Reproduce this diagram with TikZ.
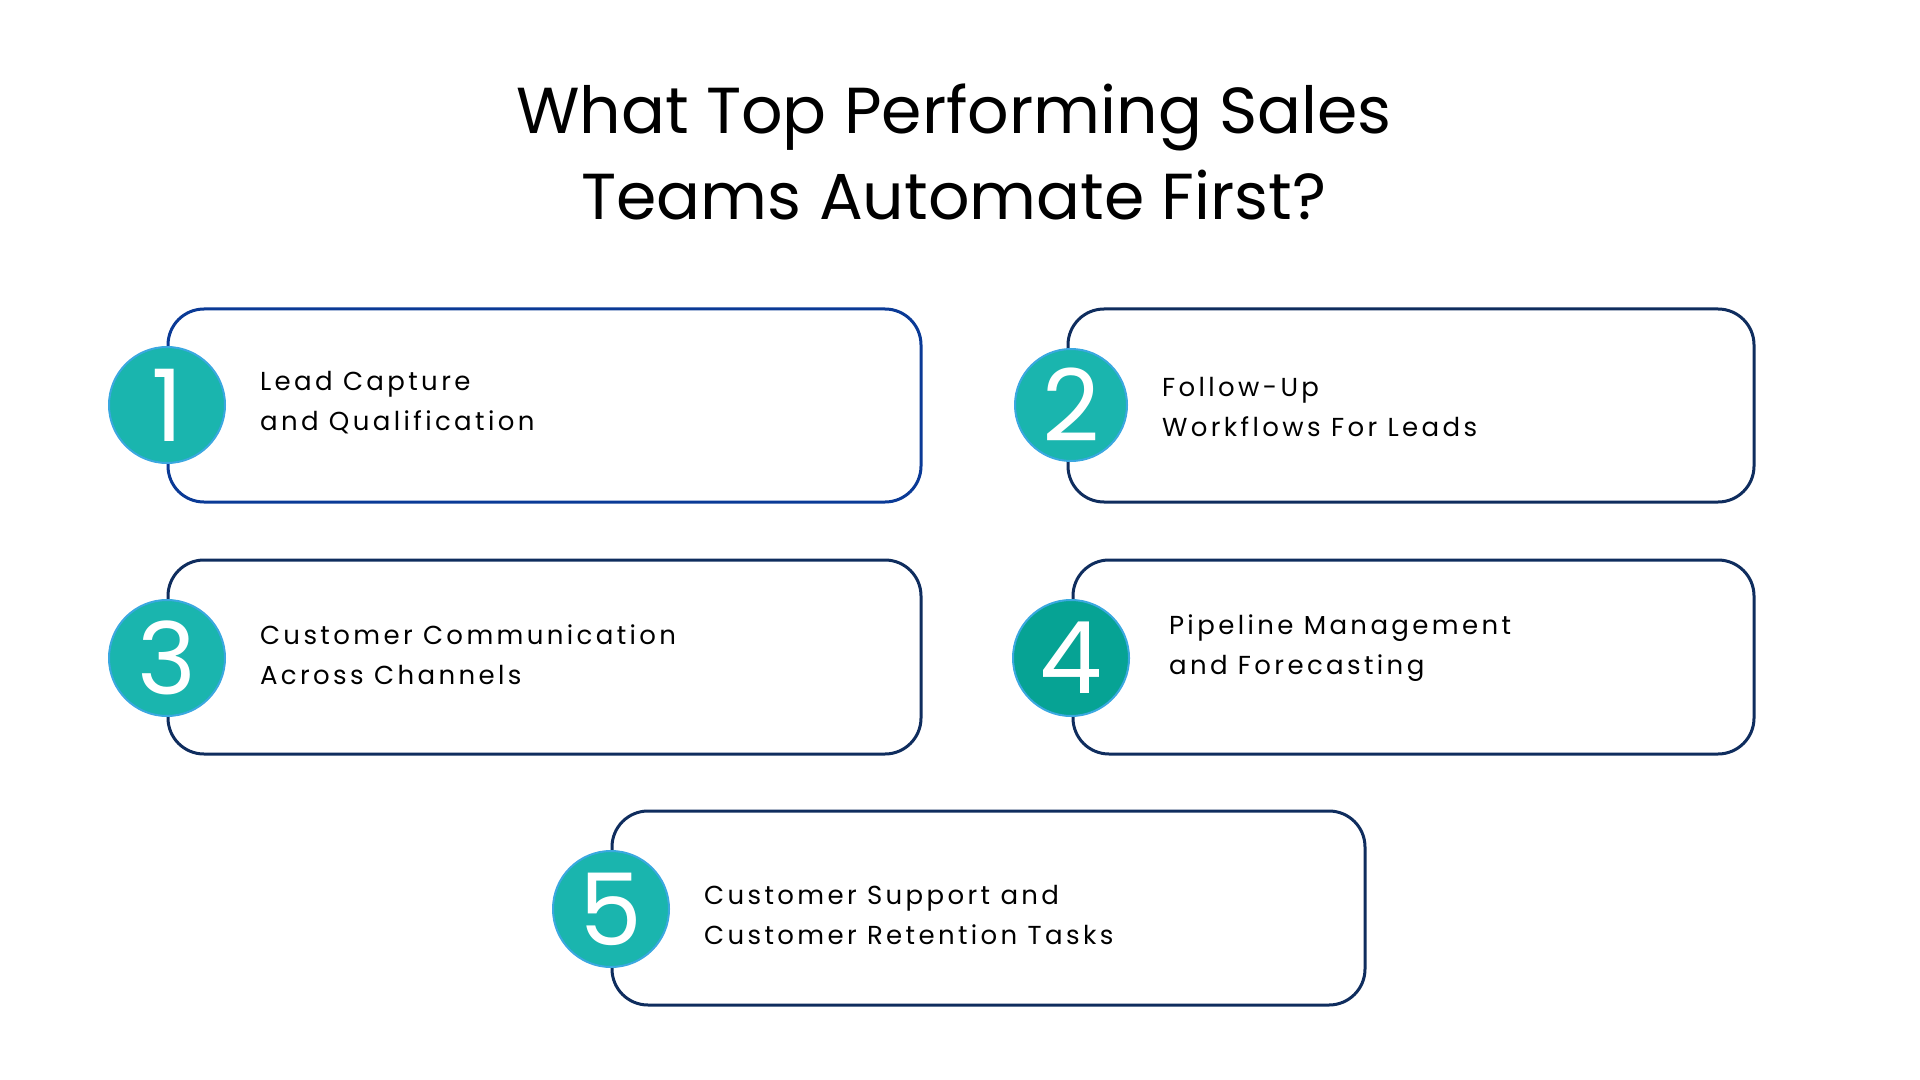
\documentclass[tikz,border=0pt]{standalone}
\usepackage{fontspec}
\setmainfont{Poppins}
\newfontfamily\spaced[LetterSpace=13]{Poppins}
\definecolor{bluea}{HTML}{0A3A96}
\definecolor{navy}{HTML}{0F2D5E}
\definecolor{teal}{HTML}{1AB5AE}
\definecolor{tealdk}{HTML}{06A394}
\definecolor{ring}{HTML}{3AA8E0}
\begin{document}
\begin{tikzpicture}[x=0.5pt,y=-0.5pt,
  box/.style={draw=navy,line width=1.5pt,rounded corners=18pt},
  num/.style={circle,minimum size=58pt,inner sep=0pt,fill=teal,draw=ring,line width=1pt,text=white,font=\fontsize{50}{50}\selectfont},
  lbl/.style={anchor=west,align=left,font=\spaced\fontsize{13}{20}\selectfont,text=black}]
\useasboundingbox[fill=white] (0,0) rectangle (1920,1080);
\node[font=\fontsize{32.5}{43}\selectfont,align=center] (title) at (954,152) {What Top Performing Sales\\Teams Automate First?};
\draw[box,draw=bluea] (168,309) rectangle (921,502);
\draw[box] (1068,309) rectangle (1754,502);
\draw[box] (168,560) rectangle (921,754);
\draw[box] (1073,560) rectangle (1754,754);
\draw[box] (612,811) rectangle (1365,1005);
\node[num] (n1) at (167,405) {1};
\node[num,minimum size=56pt] (n2) at (1071,405) {2};
\node[num] (n3) at (167,658) {3};
\node[num,fill=tealdk] (n4) at (1071,658) {4};
\node[num] (n5) at (611,909) {5};
\node[lbl] (t1) at (253,403) {Lead Capture\\and Qualification};
\node[lbl] (t2) at (1155,407) {Follow-Up\\Workflows For Leads};
\node[lbl] (t3) at (253,655) {Customer Communication\\Across Channels};
\node[lbl] (t4) at (1162,648) {Pipeline Management\\and Forecasting};
\node[lbl] (t5) at (697,915) {Customer Support and\\Customer Retention Tasks};
\end{tikzpicture}
\end{document}
